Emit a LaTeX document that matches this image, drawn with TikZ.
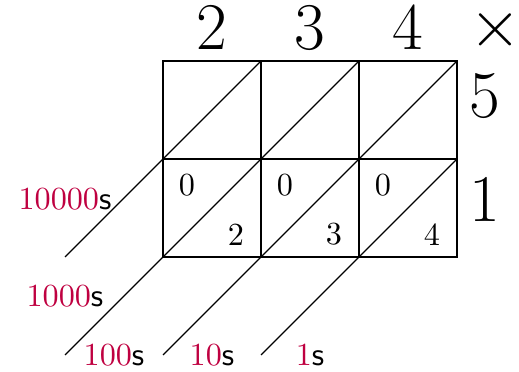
\documentclass[tikz,border=0pt]{standalone}
\begin{document}
\begin{tikzpicture}[x=1.07cm,y=1.07cm,
  big/.style={font=\huge, inner sep=0pt},
  small/.style={inner sep=0pt},
  place/.style={inner sep=0pt},
  gridline/.style={line width=0.4pt}]
\useasboundingbox (-1.663,-1.173) rectangle (3.633,2.622);
% grid
\draw[gridline] (0,0) rectangle (3,2);
\draw[gridline] (0,1) -- (3,1);
\draw[gridline] (1,0) -- (1,2);
\draw[gridline] (2,0) -- (2,2);
% diagonals
\coordinate (a1) at (-1,0);  \coordinate (b1) at (1,2);
\coordinate (a2) at (-1,-1); \coordinate (b2) at (2,2);
\coordinate (a3) at (0,-1);  \coordinate (b3) at (3,2);
\coordinate (a4) at (1,-1);  \coordinate (b4) at (3,1);
\draw[gridline] (a1) -- (b1);
\draw[gridline] (a2) -- (b2);
\draw[gridline] (a3) -- (b3);
\draw[gridline] (a4) -- (b4);
% top factors
\node[big] (t2) at (0.5,2.34) {2};
\node[big] (t3) at (1.5,2.34) {3};
\node[big] (t4) at (2.5,2.34) {4};
\node[big] (times) at (3.39,2.32) {$\times$};
% right factors
\node[big] (r5) at (3.28,1.64) {5};
\node[big] (r1) at (3.28,0.59) {1};
% cell digits
\node[small] (c00) at (0.245,0.735) {0};
\node[small] (c01) at (0.745,0.23) {2};
\node[small] (c10) at (1.245,0.735) {0};
\node[small] (c11) at (1.745,0.23) {3};
\node[small] (c20) at (2.245,0.735) {0};
\node[small] (c21) at (2.745,0.23) {4};
% place value labels
\node[place] (p4) at (-1.0,0.59) {\textcolor{purple}{10000}\textsf{s}};
\node[place] (p3) at (-1.0,-0.40) {\textcolor{purple}{1000}\textsf{s}};
\node[place] (p2) at (-0.5,-1.0) {\textcolor{purple}{100}\textsf{s}};
\node[place] (p1) at (0.5,-1.0) {\textcolor{purple}{10}\textsf{s}};
\node[place] (p0) at (1.5,-1.0) {\textcolor{purple}{1}\textsf{s}};
\end{tikzpicture}
\end{document}
